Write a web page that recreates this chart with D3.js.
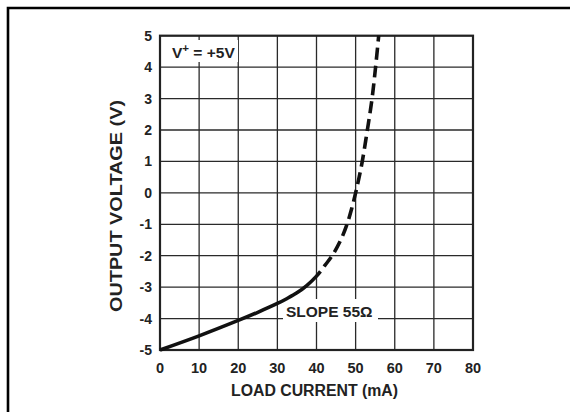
<!DOCTYPE html>
<html>
<head>
<meta charset="utf-8">
<script src="https://cdn.jsdelivr.net/npm/d3@7"></script>
<style>
  body { margin: 0; background: #fff; }
  svg { display: block; font-family: "Liberation Sans", Arial, sans-serif; font-weight: bold; }
</style>
</head>
<body>
<div id="chart"></div>
<script>
// load current (mA) vs output voltage (V)
var xTicks = [0, 10, 20, 30, 40, 50, 60, 70, 80];
var yTicks = [-5, -4, -3, -2, -1, 0, 1, 2, 3, 4, 5];

var current = [0, 10, 20, 25, 30, 32.5, 35, 37.5, 40, 42.2, 44.0, 46.2, 47.8, 49.0, 50.0, 50.9, 51.7, 53.0, 54.2, 55.1, 55.9];
var voltage = [-5, -4.55, -4.06, -3.8, -3.52, -3.36, -3.18, -2.95, -2.65, -2.3, -2.0, -1.5, -1.0, -0.5, 0, 0.5, 1, 2, 3, 4, 5];
var dashFrom = 41; // curve is dashed beyond this current

var width = 570, height = 412;
var plotLeft = 160, plotRight = 473, plotTop = 35.7, plotBottom = 350;

var svg = d3.select("#chart")
	.append("svg")
	.attr("width", width)
	.attr("height", height);

// outer frame (only top and left edges are in view)
svg.append("path")
	.attr("d", "M8,412 L8,8 L570,8")
	.attr("fill", "none")
	.attr("stroke", "#000")
	.attr("stroke-width", 2.6);

var x = d3.scaleLinear().domain([0, 80]).range([plotLeft, plotRight]);
var y = d3.scaleLinear().domain([-5, 5]).range([plotBottom, plotTop]);

// grid
svg.append("g")
	.selectAll("line")
	.data(xTicks)
	.enter()
	.append("line")
	.attr("x1", function(d) { return x(d); })
	.attr("x2", function(d) { return x(d); })
	.attr("y1", plotTop)
	.attr("y2", plotBottom)
	.attr("stroke", "#2a2a2a")
	.attr("stroke-width", 1.3);
svg.append("g")
	.selectAll("line")
	.data(yTicks)
	.enter()
	.append("line")
	.attr("x1", plotLeft)
	.attr("x2", plotRight)
	.attr("y1", function(d) { return y(d); })
	.attr("y2", function(d) { return y(d); })
	.attr("stroke", "#2a2a2a")
	.attr("stroke-width", 1.3);

svg.append("rect")
	.attr("x", plotLeft)
	.attr("y", plotTop)
	.attr("width", plotRight - plotLeft)
	.attr("height", plotBottom - plotTop)
	.attr("fill", "none")
	.attr("stroke", "#222")
	.attr("stroke-width", 2.2);

// tick labels
svg.append("g")
	.selectAll("text")
	.data(xTicks)
	.enter()
	.append("text")
	.attr("x", function(d) { return x(d); })
	.attr("y", 373)
	.attr("text-anchor", "middle")
	.attr("font-size", 14.5)
	.attr("fill", "#222")
	.text(function(d) { return d; });
svg.append("g")
	.selectAll("text")
	.data(yTicks)
	.enter()
	.append("text")
	.attr("x", 152)
	.attr("y", function(d) { return y(d); })
	.attr("dy", "0.36em")
	.attr("text-anchor", "end")
	.attr("font-size", 14)
	.attr("fill", "#222")
	.text(function(d) { return d; });

// axis titles
svg.append("text")
	.attr("x", 314.5)
	.attr("y", 396)
	.attr("text-anchor", "middle")
	.attr("font-size", 16)
	.attr("fill", "#222")
	.attr("textLength", 167)
	.attr("lengthAdjust", "spacingAndGlyphs")
	.text("LOAD CURRENT (mA)");
svg.append("text")
	.attr("transform", "translate(121.5,206) rotate(-90)")
	.attr("text-anchor", "middle")
	.attr("font-size", 16)
	.attr("fill", "#222")
	.attr("textLength", 212)
	.attr("lengthAdjust", "spacingAndGlyphs")
	.text("OUTPUT VOLTAGE (V)");

// annotations with white backing
svg.append("rect")
	.attr("x", 166).attr("y", 40).attr("width", 72).attr("height", 22)
	.attr("fill", "#fff");
var vplus = svg.append("text")
	.attr("x", 172)
	.attr("y", 57.5)
	.attr("font-size", 15.5)
	.attr("fill", "#222");
vplus.append("tspan").text("V");
vplus.append("tspan").attr("font-size", 11.5).attr("dy", -6).text("+");
vplus.append("tspan").attr("dy", 6).text(" = +5V");

svg.append("rect")
	.attr("x", 283).attr("y", 299).attr("width", 95).attr("height", 23)
	.attr("fill", "#fff");
svg.append("text")
	.attr("x", 286)
	.attr("y", 316.5)
	.attr("font-size", 15.5)
	.attr("fill", "#222")
	.text("SLOPE 55\u03A9");

// curve: one smooth path, solid up to dashFrom then dashed
var line = d3.line()
	.x(function(d) { return x(d[0]); })
	.y(function(d) { return y(d[1]); })
	.curve(d3.curveCatmullRom.alpha(0.5));

var curve = svg.append("path")
	.datum(d3.zip(current, voltage))
	.attr("d", line)
	.attr("fill", "none")
	.attr("stroke", "#111")
	.attr("stroke-width", 3.6);

var node = curve.node();
var total = node.getTotalLength();
var lo = 0, hi = total;
for (var k = 0; k < 40; k++) {
	var mid = (lo + hi) / 2;
	if (node.getPointAtLength(mid).x < x(dashFrom)) lo = mid; else hi = mid;
}
var solidLen = lo;
var dash = 12, gap = 6;
var pattern = [solidLen];
var pos = solidLen;
while (pos < total) {
	pattern.push(gap, dash);
	pos += gap + dash;
}
curve.attr("stroke-dasharray", pattern.join(","));
</script>
</body>
</html>
